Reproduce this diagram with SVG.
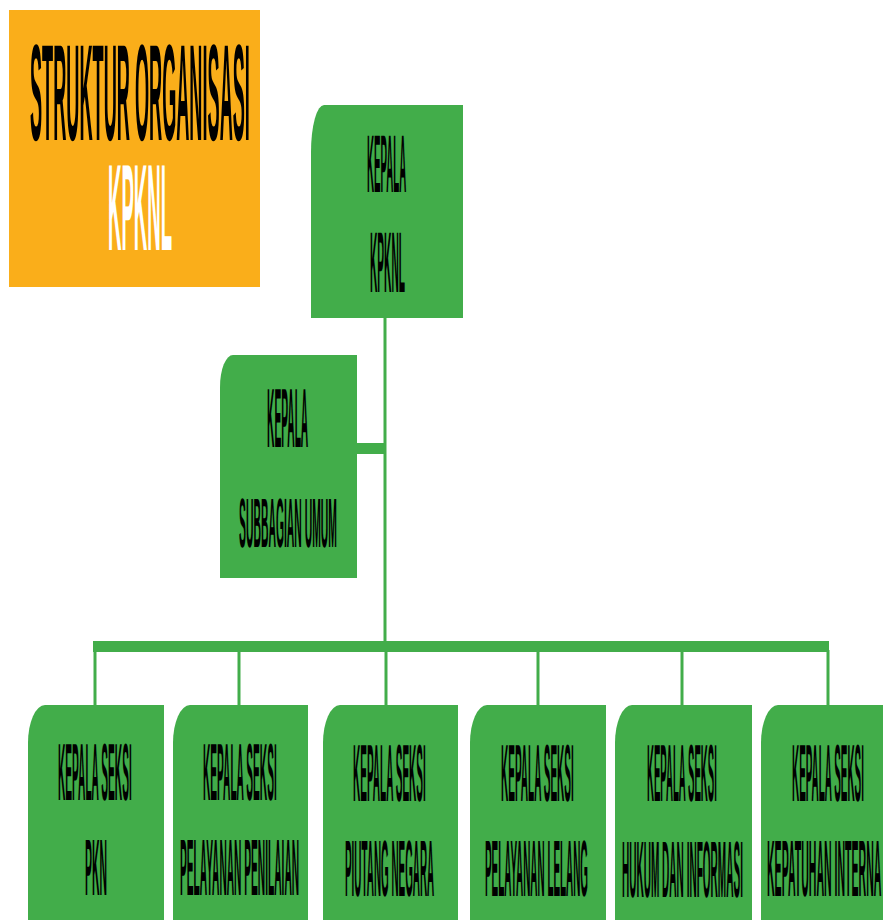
<svg xmlns="http://www.w3.org/2000/svg" width="883" height="920" viewBox="0 0 883 920">
<style>
.node{fill:#42AD4A}
.t{font-family:"Liberation Sans",Arial,sans-serif;font-weight:bold;fill:#000;text-rendering:geometricPrecision}
.w{fill:#fff}
.ln{stroke:#42AD4A;stroke-width:3;fill:none}
.bar{fill:#42AD4A}
</style>
<rect x="0" y="0" width="883" height="920" fill="#fff"/>
<g id="title">
<rect x="9" y="10" width="251" height="277" fill="#FAAE1A"/>
<text class="t" x="30" y="140" font-size="18.17" transform="matrix(1,0,0,7.54,0,-915.6)">STRUKTUR ORGANISASI</text>
<text class="t w" x="108" y="250" font-size="18.58" transform="matrix(1,0,0,6.62,0,-1405)">KPKNL</text>
</g>
<g id="connectors">
<line class="ln" x1="385" y1="318" x2="385" y2="645"/>
<rect class="bar" x="355" y="443" width="30" height="11"/>
<rect class="bar" x="93" y="641" width="736" height="11"/>
<line class="ln" x1="95" y1="650" x2="95" y2="706"/>
<line class="ln" x1="239" y1="650" x2="239" y2="706"/>
<line class="ln" x1="386" y1="650" x2="386" y2="706"/>
<line class="ln" x1="538" y1="650" x2="538" y2="706"/>
<line class="ln" x1="682" y1="650" x2="682" y2="706"/>
<line class="ln" x1="828" y1="650" x2="828" y2="706"/>
</g>
<g id="kepala-kpknl">
<path class="node" d="M311,152 A13,47 0 0 1 324,105 L463,105 L463,318 L311,318 Z"/>
<text class="t" x="367" y="192" font-size="9.73" transform="matrix(1,0,0,8.43,0,-1426.6)">KEPALA</text>
<text class="t" x="370" y="292" font-size="10.16" transform="matrix(1,0,0,8.46,0,-2178.3)">KPKNL</text>
</g>
<g id="kepala-subbagian-umum">
<path class="node" d="M220,387 A13,32 0 0 1 233,355 L357,355 L357,578 L220,578 Z"/>
<text class="t" x="267" y="447" font-size="10.22" transform="matrix(1,0,0,8.22,0,-3227.3)">KEPALA</text>
<text class="t" x="239" y="547" font-size="10.38" transform="matrix(1,0,0,6.74,0,-3139.8)">SUBBAGIAN UMUM</text>
</g>
<g id="seksi-pkn">
<path class="node" d="M28,743 A17,38 0 0 1 45,705 L164,705 L164,925 L28,925 Z"/>
<text class="t" x="58" y="800" font-size="10.15" transform="matrix(1,0,0,7.98,0,-5584)">KEPALA SEKSI</text>
<text class="t" x="85" y="895" font-size="10.42" transform="matrix(1,0,0,7.68,0,-5978.6)">PKN</text>
</g>
<g id="seksi-pelayanan-penilaian">
<path class="node" d="M173,743 A17,38 0 0 1 190,705 L308,705 L308,925 L173,925 Z"/>
<text class="t" x="203" y="800" font-size="10.15" transform="matrix(1,0,0,7.98,0,-5584)">KEPALA SEKSI</text>
<text class="t" x="180" y="895" font-size="10.18" transform="matrix(1,0,0,7.86,0,-6139.7)">PELAYANAN PENILAIAN</text>
</g>
<g id="seksi-piutang-negara">
<path class="node" d="M323,743 A17,38 0 0 1 340,705 L458,705 L458,925 L323,925 Z"/>
<text class="t" x="353" y="801" font-size="10.01" transform="matrix(1,0,0,8.09,0,-5679.1)">KEPALA SEKSI</text>
<text class="t" x="345" y="896" font-size="9.88" transform="matrix(1,0,0,8.1,0,-6361.6)">PIUTANG NEGARA</text>
</g>
<g id="seksi-pelayanan-lelang">
<path class="node" d="M470,743 A17,38 0 0 1 487,705 L606,705 L606,925 L470,925 Z"/>
<text class="t" x="501" y="801" font-size="10.01" transform="matrix(1,0,0,8.09,0,-5679.1)">KEPALA SEKSI</text>
<text class="t" x="485" y="896" font-size="9.895" transform="matrix(1,0,0,8.08,0,-6343.7)">PELAYANAN LELANG</text>
</g>
<g id="seksi-hukum-dan-informasi">
<path class="node" d="M615,743 A17,38 0 0 1 632,705 L752,705 L752,925 L615,925 Z"/>
<text class="t" x="647" y="801" font-size="9.61" transform="matrix(1,0,0,8.43,0,-5951.4)">KEPALA SEKSI</text>
<text class="t" x="622" y="896" font-size="10.04" transform="matrix(1,0,0,7.97,0,-6244.1)">HUKUM DAN INFORMASI</text>
</g>
<g id="seksi-kepatuhan-internal">
<path class="node" d="M761,743 A17,38 0 0 1 778,705 L890,705 L890,925 L761,925 Z"/>
<text class="t" x="792" y="801" font-size="9.88" transform="matrix(1,0,0,8.2,0,-5767.2)">KEPALA SEKSI</text>
<text class="t" x="767" y="896" font-size="10.55" transform="matrix(1,0,0,7.58,0,-5895.7)">KEPATUHAN INTERNA</text>
</g>
</svg>
